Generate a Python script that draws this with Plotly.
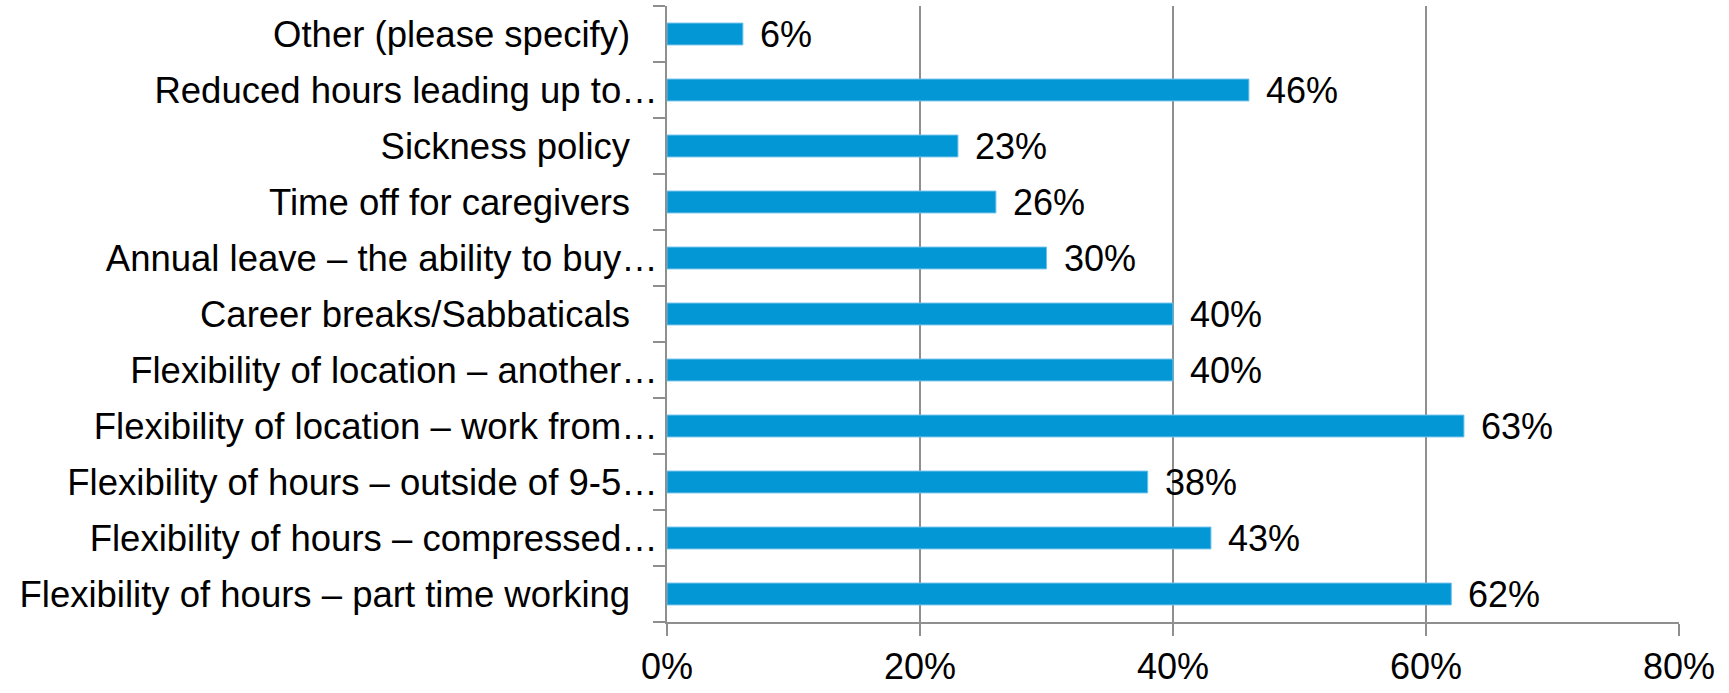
import plotly.graph_objects as go

# Survey responses: share of respondents per flexible-working option (bottom to top)
PAD = "\u00a0\u00a0\u2009"
categories = [
    "Flexibility of hours – part time working" + PAD,
    "Flexibility of hours – compressed…",
    "Flexibility of hours – outside of 9-5…",
    "Flexibility of location – work from…",
    "Flexibility of location – another…",
    "Career breaks/Sabbaticals" + PAD,
    "Annual leave – the ability to buy…",
    "Time off for caregivers" + PAD,
    "Sickness policy" + PAD,
    "Reduced hours leading up to…",
    "Other (please specify)" + PAD,
]
values = [0.62, 0.43, 0.38, 0.63, 0.40, 0.40, 0.30, 0.26, 0.23, 0.46, 0.06]
x_ticks = [0, 0.2, 0.4, 0.6, 0.8]

FONT = "Arial, Liberation Sans, sans-serif"
GRID = "#8f8f8f"
BAR = "#0497d5"

fig = go.Figure(
    go.Bar(
        x=values,
        y=categories,
        orientation="h",
        width=0.39,
        marker=dict(color=BAR, line=dict(color="#6cc2ea", width=1)),
        hoverinfo="x+y",
    )
)

# Value labels to the right of each bar
for cat, val in zip(categories, values):
    fig.add_annotation(
        x=val, y=cat, text=f"{val:.0%}", showarrow=False,
        xanchor="left", yanchor="middle", xshift=15,
        font=dict(family=FONT, size=36, color="black"),
    )

fig.update_layout(
    width=1729, height=693,
    margin=dict(l=667, r=50, t=6, b=65),
    paper_bgcolor="white", plot_bgcolor="white",
    showlegend=False,
    font=dict(family=FONT, size=36, color="black"),
    bargap=0.6,
)
fig.update_xaxes(
    range=[0, 0.8], tickvals=x_ticks, tickformat=".0%",
    tickfont=dict(family=FONT, size=36, color="black"),
    showgrid=True, gridcolor=GRID, gridwidth=2,
    showline=True, linecolor=GRID, linewidth=2,
    ticks="outside", ticklen=12, tickwidth=2, tickcolor=GRID,
    zeroline=False, fixedrange=True,
)
fig.update_yaxes(
    type="category", range=[-0.5, len(categories) - 0.5],
    tickfont=dict(family=FONT, size=36.5, color="black"),
    tickson="boundaries", ticks="outside", ticklen=12, tickwidth=2, tickcolor=GRID,
    showline=True, linecolor=GRID, linewidth=2,
    showgrid=False, zeroline=False, fixedrange=True,
)

fig.write_html("out.html")
